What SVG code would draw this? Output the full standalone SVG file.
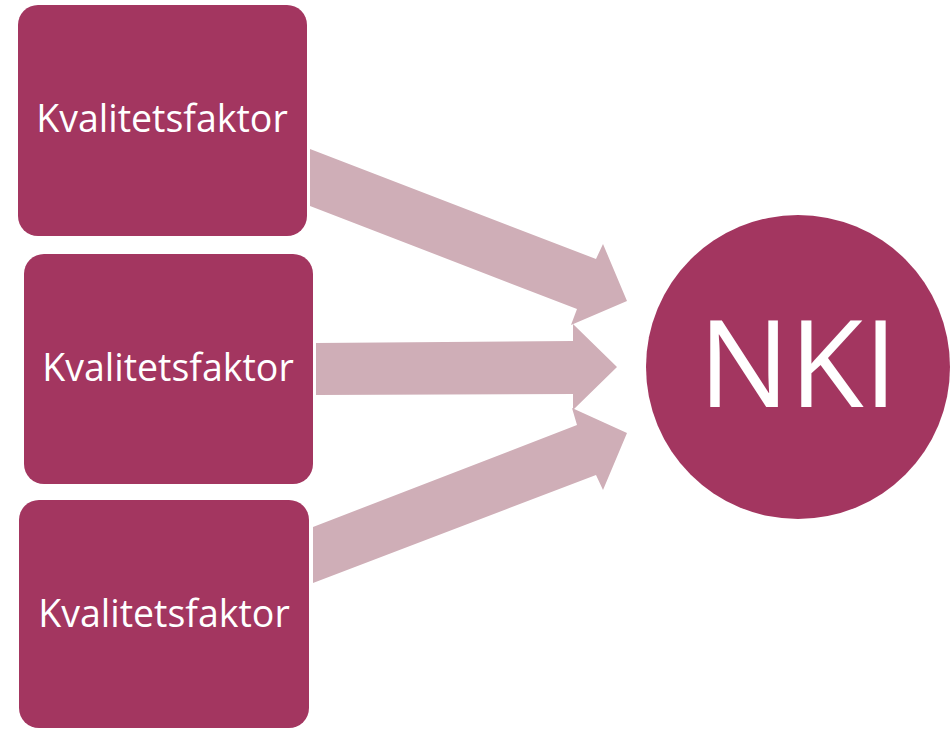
<svg xmlns="http://www.w3.org/2000/svg" width="951" height="729" viewBox="0 0 951 729">
<style>
.box{fill:#A33660;}
.arrow{fill:#CFAEB7;}
.lbl{font-family:"Open Sans","Noto Sans",sans-serif;fill:#FFFFFF;text-anchor:middle;}
</style>
<rect width="951" height="729" fill="#FFFFFF"/>
<g id="connectors">
<polygon class="arrow" points="310,149 596,259 603,244 627,301 571,325 577,309 310,206"/>
<polygon class="arrow" points="316,343 573,341 573,324 617,367 573,410 573,394 316,395"/>
<polygon class="arrow" points="313,583 596,475 603,490 627,433 572,408 577,425 313,527"/>
</g>
<g id="kf1">
<rect class="box" x="18" y="5" width="289" height="231" rx="20" ry="20"/>
<text class="lbl" x="162" y="132" font-size="37.5">Kvalitetsfaktor</text>
</g>
<g id="kf2">
<rect class="box" x="24" y="254" width="289" height="230" rx="20" ry="20"/>
<text class="lbl" x="168" y="381" font-size="37.5">Kvalitetsfaktor</text>
</g>
<g id="kf3">
<rect class="box" x="19" y="500" width="290" height="228" rx="20" ry="20"/>
<text class="lbl" x="164" y="627" font-size="37.5">Kvalitetsfaktor</text>
</g>
<g id="nki">
<circle class="box" cx="798" cy="367" r="152"/>
<text class="lbl" x="798" y="407" font-size="121">NKI</text>
</g>
</svg>
